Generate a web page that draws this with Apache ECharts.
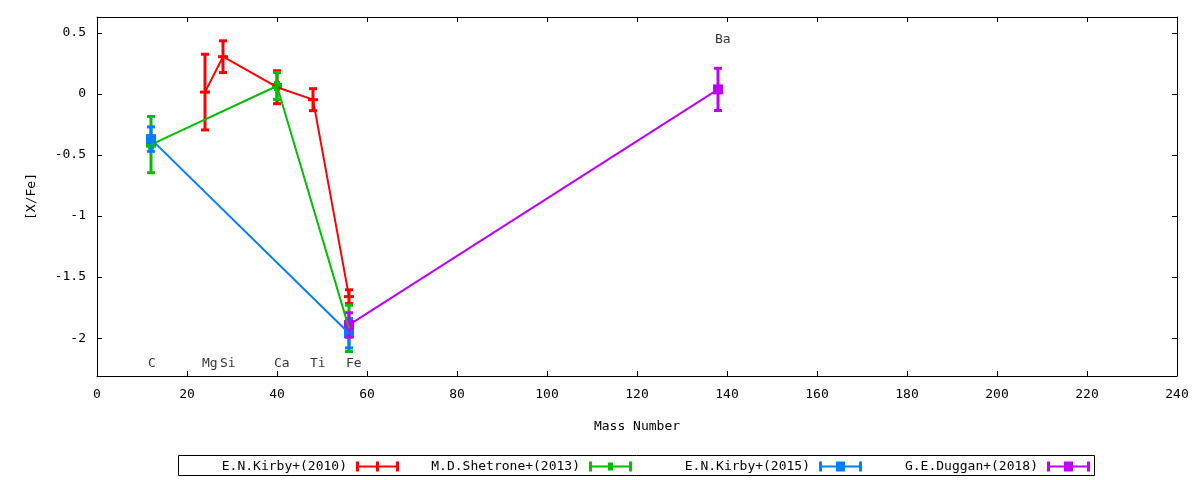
<!DOCTYPE html>
<html>
<head>
<meta charset="utf-8">
<script src="https://cdn.jsdelivr.net/npm/echarts@6/dist/echarts.min.js"></script>
<style>html,body{margin:0;padding:0;background:#fff;}#chart{width:1200px;height:480px;}</style>
</head>
<body>
<div id="chart"></div>
<script>
// ---- data ----
const seriesNames = ['E.N.Kirby+(2010)', 'M.D.Shetrone+(2013)', 'E.N.Kirby+(2015)', 'G.E.Duggan+(2018)'];
const seriesColors = ['#ff0000', '#00c000', '#0080ff', '#c000ff'];

const kirby2010Mass = [24, 28, 40, 48, 56];
const kirby2010Val  = [0.015, 0.305, 0.055, -0.047, -1.66];
const kirby2010Err  = [0.31, 0.13, 0.135, 0.09, 0.056];

const shetrone2013Mass = [12, 40, 56];
const shetrone2013Val  = [-0.415, 0.065, -1.92];
const shetrone2013Err  = [0.23, 0.11, 0.19];

const kirby2015Mass = [12, 56];
const kirby2015Val  = [-0.37, -1.96];
const kirby2015Err  = [0.1, 0.12];

const duggan2018Mass = [56, 138];
const duggan2018Val  = [-1.892, 0.037];
const duggan2018Err  = [0.1, 0.173];

const elemNames  = ['C', 'Mg', 'Si', 'Ca', 'Ti', 'Fe', 'Ba'];
const elemMass   = [12, 24, 28, 40, 48, 56, 138];
const elemLabelY = [-2.212, -2.212, -2.212, -2.212, -2.212, -2.212, 0.445];

const xTickMin = 0, xTickMax = 240, xTickStep = 20;
const yMin = -2.31, yMax = 0.63;

// ---- build ----
const FONT = 'DejaVu Sans Mono';
const groups = [
  [kirby2010Mass, kirby2010Val, kirby2010Err, 'plus'],
  [shetrone2013Mass, shetrone2013Val, shetrone2013Err, 'cross'],
  [kirby2015Mass, kirby2015Val, kirby2015Err, 'square'],
  [duggan2018Mass, duggan2018Val, duggan2018Err, 'square']
];

function makeRender(color, marker) {
  return function (params, api) {
    const x = api.value(0), y = api.value(1), e = api.value(2);
    const t = api.coord([x, y + e]);
    const b = api.coord([x, y - e]);
    const c = api.coord([x, y]);
    const cw = 4;
    const st = { stroke: color, lineWidth: 3, fill: null };
    const ch = [
      { type: 'line', shape: { x1: c[0], y1: t[1], x2: c[0], y2: b[1] }, style: st },
      { type: 'line', shape: { x1: c[0] - cw, y1: t[1], x2: c[0] + cw, y2: t[1] }, style: st },
      { type: 'line', shape: { x1: c[0] - cw, y1: b[1], x2: c[0] + cw, y2: b[1] }, style: st }
    ];
    if (marker === 'plus') {
      ch.push({ type: 'line', shape: { x1: c[0] - 5, y1: c[1], x2: c[0] + 5, y2: c[1] }, style: st });
    } else if (marker === 'cross') {
      ch.push({ type: 'rect', shape: { x: c[0] - 5, y: c[1] - 3, width: 10, height: 6 }, style: { fill: color } });
      ch.push({ type: 'rect', shape: { x: c[0] - 3, y: c[1] - 5, width: 6, height: 10 }, style: { fill: color } });
    } else {
      ch.push({ type: 'rect', shape: { x: c[0] - 5, y: c[1] - 5, width: 10, height: 10 }, style: { fill: color } });
    }
    return { type: 'group', children: ch };
  };
}

const series = [];
groups.forEach(function (g, i) {
  const [m, v, e, marker] = g;
  series.push({
    name: seriesNames[i], type: 'line', xAxisIndex: 0, yAxisIndex: 0,
    data: m.map((mm, k) => [mm, v[k]]),
    showSymbol: false, symbol: 'none', color: seriesColors[i],
    lineStyle: { width: 2, color: seriesColors[i] }, silent: true
  });
  series.push({
    name: seriesNames[i], type: 'custom', xAxisIndex: 0, yAxisIndex: 0,
    data: m.map((mm, k) => [mm, v[k], e[k]]),
    color: seriesColors[i], itemStyle: { color: seriesColors[i] },
    renderItem: makeRender(seriesColors[i], marker), silent: true
  });
});
series.push({
  type: 'scatter', xAxisIndex: 0, yAxisIndex: 0, symbolSize: 0, silent: true,
  data: elemNames.map((n, k) => ({ name: n, value: [elemMass[k], elemLabelY[k]] })),
  label: { show: true, position: 'inside', align: 'left', verticalAlign: 'middle', offset: [-3, 0],
    formatter: p => p.name, color: '#000', fontFamily: FONT, fontSize: 13 }
});

const iconPaths = {
  plus:   'path://M0,4L43,4L43,6L0,6ZM0,0L3,0L3,10L0,10ZM40,0L43,0L43,10L40,10ZM20,0L23,0L23,10L20,10Z',
  cross:  'path://M0,4L43,4L43,6L0,6ZM0,0L3,0L3,10L0,10ZM40,0L43,0L43,10L40,10ZM19,1L24,1L24,9L19,9Z',
  square: 'path://M0,4L43,4L43,6L0,6ZM0,0L3,0L3,10L0,10ZM40,0L43,0L43,10L40,10ZM17,0L26,0L26,10L17,10Z'
};
const legendRights = [801, 568, 338, 110];
const legends = seriesNames.map((n, i) => ({
  data: [{ name: n, icon: iconPaths[groups[i][3]] }],
  right: legendRights[i], top: 460, padding: 0, align: 'right',
  itemWidth: 43, itemHeight: 10, selectedMode: false,
  textStyle: { fontFamily: FONT, fontSize: 13, color: '#000', padding: [0, 4, 0, 0] }
}));

const axisCommonX = {
  type: 'value', min: xTickMin, max: xTickMax, interval: xTickStep,
  axisLine: { show: true, onZero: false, lineStyle: { color: '#000', width: 1 } },
  axisTick: { show: true, inside: true, length: 5, lineStyle: { color: '#000' } },
  splitLine: { show: false }
};
const axisCommonY = {
  type: 'value', min: yMin, max: yMax, splitNumber: 5,
  axisLine: { show: true, onZero: false, lineStyle: { color: '#000', width: 1 } },
  axisTick: { show: true, inside: true, length: 5, lineStyle: { color: '#000' } },
  splitLine: { show: false }
};

const option = {
  animation: false,
  backgroundColor: '#fff',
  grid: { left: 97, right: 23, top: 17, bottom: 104, containLabel: false },
  legend: legends,
  xAxis: [
    Object.assign({}, axisCommonX, {
      position: 'bottom', name: 'Mass Number', nameLocation: 'middle', nameGap: 44,
      nameTextStyle: { fontFamily: FONT, fontSize: 13, color: '#000' },
      axisLabel: { show: true, margin: 12, fontFamily: FONT, fontSize: 13, color: '#000' }
    }),
    Object.assign({}, axisCommonX, { position: 'top', axisLabel: { show: false } })
  ],
  yAxis: [
    Object.assign({}, axisCommonY, {
      position: 'left', name: '[X/Fe]', nameLocation: 'middle', nameGap: 59, nameRotate: 90,
      nameTextStyle: { fontFamily: FONT, fontSize: 13, color: '#000' },
      axisLabel: { show: true, margin: 11, fontFamily: FONT, fontSize: 13, color: '#000',
        showMinLabel: false, showMaxLabel: false }
    }),
    Object.assign({}, axisCommonY, { position: 'right', axisLabel: { show: false } })
  ],
  graphic: [{
    type: 'rect', shape: { x: 178.5, y: 455.5, width: 916, height: 20 },
    style: { fill: null, stroke: '#000', lineWidth: 1 }, silent: true
  }],
  series: series
};

const chart = echarts.init(document.getElementById('chart'), null, { renderer: 'canvas' });
chart.setOption(option);
</script>
</body>
</html>
